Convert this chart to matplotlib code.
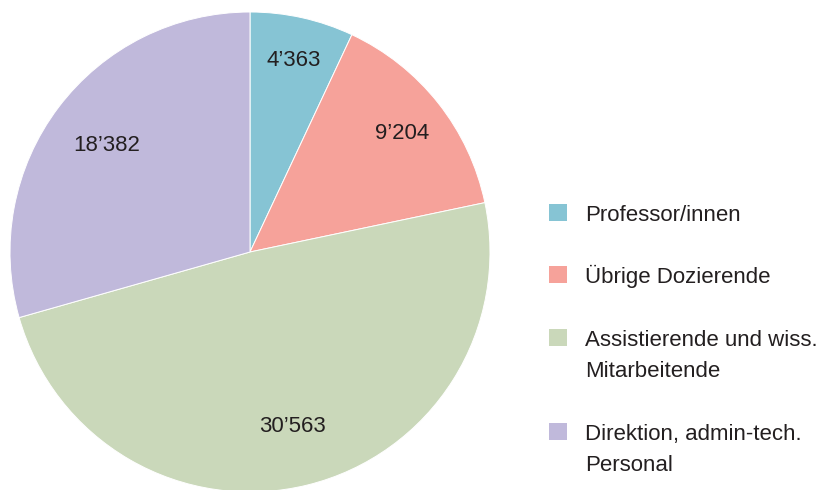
import matplotlib
matplotlib.use("Agg")
import matplotlib.pyplot as plt
import numpy as np
from matplotlib.patches import Rectangle

categories = ["Professor/innen", "Übrige Dozierende",
              "Assistierende und wiss.\nMitarbeitende",
              "Direktion, admin-tech.\nPersonal"]
values = [4363, 9204, 30563, 18382]
value_labels = ["4’363", "9’204", "30’563", "18’382"]
colors = ["#86C4D4", "#F6A29A", "#CAD8BA", "#C0B9DB"]
label_radius = [0.83, 0.81, 0.74, 0.75]
legend_baselines_px = [221, 283, 346, 440]

plt.rcParams['font.family'] = ['Liberation Sans', 'DejaVu Sans']
TXT = "#231F20"
W, H = 819, 490

fig = plt.figure(figsize=(W/100, H/100), dpi=100)
ax = fig.add_axes([10/W, -2/H, 480/W, 480/H])
wedges, _ = ax.pie(values, colors=colors, startangle=90, counterclock=False,
                   radius=1, wedgeprops=dict(edgecolor="white", linewidth=0.7))
ax.set_xlim(-1, 1)
ax.set_ylim(-1, 1)
ax.set_aspect("equal")
ax.axis("off")

for w, lab, r in zip(wedges, value_labels, label_radius):
    ang = np.deg2rad((w.theta1 + w.theta2) / 2)
    ax.text(r*np.cos(ang), r*np.sin(ang), lab, ha="center", va="center_baseline",
            fontsize=16, color=TXT)

# legend (drawn manually so the swatch aligns with the first text line)
sq = 17.5
for cat, col, base in zip(categories, colors, legend_baselines_px):
    fig.patches.append(Rectangle((549/W, 1 - base/H), sq/W, sq/H,
                                 transform=fig.transFigure, facecolor=col,
                                 edgecolor="none"))
    for i, line in enumerate(cat.split("\n")):
        fig.text(585/W, 1 - (base + i*31)/H, line, ha="left", va="baseline",
                 fontsize=16, color=TXT)

fig.savefig("out.png", dpi=100)
